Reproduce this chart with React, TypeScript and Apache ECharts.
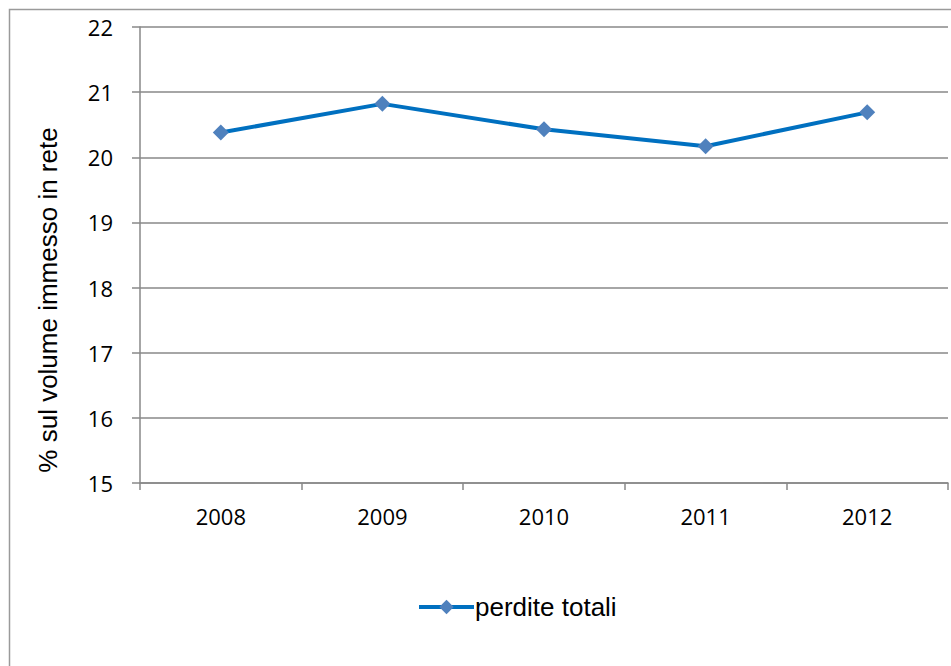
import React, { useEffect, useRef } from "react";
import * as echarts from "echarts";

const categories = ["2008", "2009", "2010", "2011", "2012"];
const perditeTotali = [20.38, 20.82, 20.43, 20.17, 20.69];
const seriesName = "perdite totali";
const yAxisTitle = "% sul volume immesso in rete";
const yMin = 15;
const yMax = 22;
const yStep = 1;

export default function App() {
  const ref = useRef<HTMLDivElement>(null);
  useEffect(() => {
    if (!ref.current) return;
    const chart = echarts.init(ref.current, undefined, { renderer: "svg" });
    const gray = "#888888";
    chart.setOption({
      animation: false,
      backgroundColor: "#ffffff",
      grid: { left: 140, right: 3, top: 27, bottom: 183, containLabel: false },
      graphic: [
        {
          type: "rect",
          shape: { x: 9.5, y: 9.5, width: 980, height: 700 },
          style: { fill: "none", stroke: "#9a9a9a", lineWidth: 1.5 },
          silent: true,
        },
        {
          type: "text",
          x: 48,
          y: 300,
          rotation: Math.PI / 2,
          style: {
            text: yAxisTitle,
            font: "26px 'Liberation Sans', Arial, sans-serif",
            fill: "#000",
            align: "center",
            verticalAlign: "middle",
          },
        },
      ],
      legend: {
        data: [seriesName],
        left: 412,
        top: 589,
        itemWidth: 55,
        itemHeight: 18,
        itemGap: 4,
        lineStyle: { width: 4, color: "#0070C0" },
        itemStyle: { color: "#4F81BD" },
        textStyle: {
          fontFamily: "'Liberation Sans', Arial, sans-serif",
          fontSize: 26,
          color: "#000",
          padding: [0, 0, 0, -4],
        },
      },
      xAxis: {
        type: "category",
        data: categories,
        boundaryGap: true,
        axisLine: { show: true, lineStyle: { color: gray, width: 1.5 } },
        axisTick: { show: true, length: 7, lineStyle: { color: gray, width: 1.5 } },
        axisLabel: {
          margin: 22,
          fontFamily: "'Open Sans', sans-serif",
          fontSize: 22,
          color: "#000",
        },
        splitLine: { show: false },
      },
      yAxis: {
        type: "value",
        min: yMin,
        max: yMax,
        interval: yStep,
        axisLine: { show: true, lineStyle: { color: gray, width: 1.5 } },
        axisTick: { show: true, length: 8, lineStyle: { color: gray, width: 1.5 } },
        axisLabel: {
          margin: 27,
          fontFamily: "'Open Sans', sans-serif",
          fontSize: 22,
          color: "#000",
        },
        splitLine: { show: true, lineStyle: { color: gray, width: 1.5 } },
      },
      series: [
        {
          name: seriesName,
          type: "line",
          data: perditeTotali,
          symbol: "diamond",
          symbolSize: 16,
          lineStyle: { color: "#0070C0", width: 4 },
          itemStyle: { color: "#4F81BD" },
        },
      ],
    });
    return () => chart.dispose();
  }, []);
  return (
    <div
      ref={ref}
      style={{ position: "fixed", left: 0, top: 0, width: 951, height: 666 }}
    />
  );
}
